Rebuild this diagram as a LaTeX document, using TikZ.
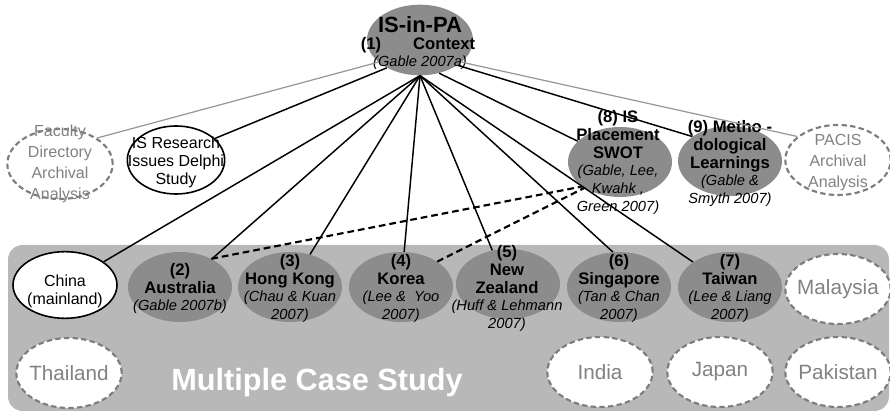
\documentclass[tikz,border=0pt]{standalone}
\usepackage{fontspec}
\setmainfont{Liberation Sans}
\usetikzlibrary{shapes.geometric}
\definecolor{ellg}{RGB}{140,140,140}
\definecolor{bgg}{RGB}{184,184,184}
\definecolor{gtxt}{RGB}{130,130,130}
\definecolor{dashg}{RGB}{125,125,125}
\definecolor{gline}{RGB}{150,150,150}
\newcommand\myci[1]{{\fontsize{11}{13.4}\selectfont\mdseries\itshape #1}}
\tikzset{
  cs/.style={ellipse, fill=ellg, minimum width=78pt, minimum height=52.5pt, inner sep=0pt},
  wsolid/.style={ellipse, draw=black, fill=white, line width=1.2pt, minimum width=78pt, minimum height=50pt, inner sep=0pt},
  wdash/.style={ellipse, draw=dashg, fill=white, dashed, dash pattern=on 4pt off 2.5pt, line width=1.6pt, minimum width=79pt, minimum height=52.5pt, inner sep=0pt},
  bt/.style={align=center, inner sep=0pt, font=\fontsize{12.5}{13.4}\selectfont\bfseries},
  rt/.style={align=center, inner sep=0pt, font=\fontsize{12}{13.5}\selectfont},
  gt/.style={align=center, inner sep=0pt, text=gtxt, font=\fontsize{12}{15.8}\selectfont},
  gbig/.style={align=center, inner sep=0pt, text=gtxt, font=\fontsize{15.5}{18}\selectfont},
  conn/.style={line width=1.1pt, black},
  gconn/.style={line width=0.9pt, gline},
  dconn/.style={line width=1.6pt, black, dash pattern=on 5pt off 3pt},
}
\begin{document}
\begin{tikzpicture}[x=0.75pt,y=-0.75pt]
\useasboundingbox (0,0) rectangle (890,413);
% background panel
\fill[bgg, rounded corners=11pt] (8,245) rectangle (889,411);
\node[text=white, inner sep=0pt, font=\fontsize{23}{26}\selectfont\bfseries] (mcs) at (317,383) {Multiple Case Study};

% top node
\node[ellipse, fill=ellg, minimum width=79.5pt, minimum height=53pt, inner sep=0pt] (top) at (420,40) {};
\node[inner sep=0pt, font=\fontsize{16.5}{18}\selectfont\bfseries] (topa) at (420,25) {IS-in-PA};
\node[bt] (topb) at (418,45) {(1)\hspace{24pt}Context};
\node[inner sep=0pt] (topc) at (420,63) {\myci{(Gable 2007a)}};

% upper row
\node[wdash, draw=dashg] (fac) at (60,164) {};
\node[gt] (fact) at (60,164) {Faculty\\Directory\\Archival\\Analysis};
\node[wsolid, minimum width=73pt, minimum height=51pt] (isr) at (176,160) {};
\node[rt] (isrt) at (176,162) {IS Research\\Issues Delphi\\Study};
\node[cs] (pl) at (620,162) {};
\node[bt] (plt) at (618,162.5) {(8) IS\\Placement\\SWOT\\\myci{(Gable, Lee,}\\\myci{Kwahk ,}\\\myci{Green 2007)}};
\node[cs] (ml) at (730,161) {};
\node[bt] (mlt) at (730,163.5) {(9) Metho -\\dological\\Learnings\\\myci{(Gable \&}\\\myci{Smyth 2007)}};
\node[wdash] (pac) at (838,160) {};
\node[gt] (pact) at (838,163) {PACIS\\Archival\\Analysis};

% case row
\node[wsolid] (cn) at (65,285) {};
\node[rt] (cnt) at (65,291) {China\\(mainland)};
\node[cs] (au) at (180,287) {};
\node[bt] (aut) at (180,288.5) {(2)\\Australia\\\myci{(Gable 2007b)}};
\node[cs] (hk) at (290,287) {};
\node[bt] (hkt) at (290,288.5) {(3)\\Hong Kong\\\myci{(Chau \& Kuan}\\\myci{2007)}};
\node[cs] (ko) at (401,287) {};
\node[bt] (kot) at (401,288.5) {(4)\\Korea\\\myci{(Lee \&\ \ Yoo}\\\myci{2007)}};
\node[cs] (nz) at (508,284) {};
\node[bt] (nzt) at (507,288.5) {(5)\\New\\Zealand\\\myci{(Huff \& Lehmann}\\\myci{2007)}};
\node[cs] (sg) at (619,287) {};
\node[bt] (sgt) at (619,288.5) {(6)\\Singapore\\\myci{(Tan \& Chan}\\\myci{2007)}};
\node[cs] (tw) at (730,287) {};
\node[bt] (twt) at (730,288.5) {(7)\\Taiwan\\\myci{(Lee \& Liang}\\\myci{2007)}};
\node[wdash] (my) at (838,289) {};
\node[gbig] (myt) at (838,289) {Malaysia};

% bottom row
\node[wdash] (th) at (69,373) {};
\node[gbig] (tht) at (69,373) {Thailand};
\node[wdash] (in) at (600,372) {};
\node[gbig] (int) at (600,372) {India};
\node[wdash] (jp) at (720,372) {};
\node[gbig] (jpt) at (720,372) {Japan};
\node[wdash] (pk) at (838,372) {};
\node[gbig] (pkt) at (838,372) {Pakistan};

% connectors
\draw[gconn] (top.-152) -- (fac.35);
\draw[gconn] (top.-28) -- (pac.150);
\draw[conn] (top.-140) -- (isr.29);
\draw[conn] (top.south) -- (cn.31);
\draw[conn] (top.south) -- (au);
\draw[conn] (top.south) -- (hk);
\draw[conn] (top.south) -- (ko);
\draw[conn] (top.south) -- (nz.115);
\draw[conn] (top.south) -- (sg.100);
\draw[conn] (top.south) -- (tw.146);
\draw[conn] (top.-60) -- (pl);
\draw[conn] (top.-34) -- (ml.147);
\draw[dconn] (au.42) -- (pl.213);
\draw[dconn] (ko.35) -- (pl.216);
\end{tikzpicture}
\end{document}
